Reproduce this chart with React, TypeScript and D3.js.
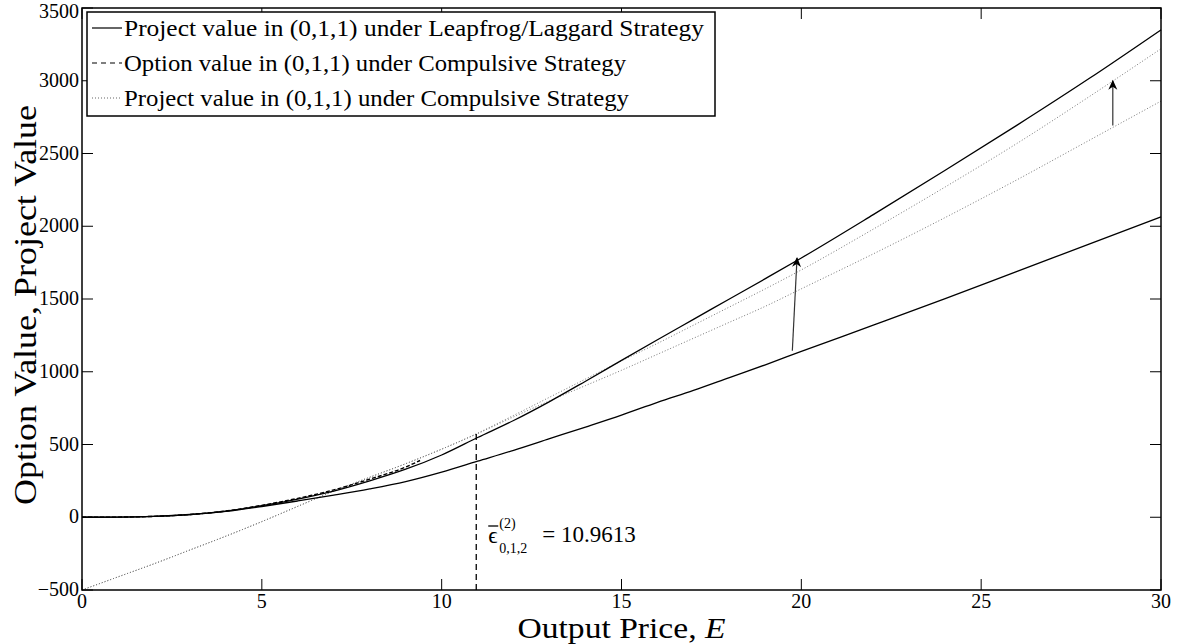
import React from 'react'
import * as d3 from 'd3'

// output price grid and the two leapfrog/laggard project value curves
const priceE = [0, 1, 2, 3, 4, 5, 6, 7, 8, 9, 10, 11, 12, 13, 14, 15, 16, 17, 18, 19, 20, 22, 24, 26, 28, 30]
const leapUpper = [0, 1, 6, 19, 42, 80, 125, 180, 250, 330, 428, 548, 665, 795, 935, 1078, 1220, 1360, 1500, 1640, 1782, 2080, 2385, 2695, 3015, 3350]
const leapLower = [0, 1, 6, 18, 40, 74, 112, 152, 195, 245, 310, 385, 460, 540, 620, 702, 790, 872, 960, 1048, 1140, 1320, 1502, 1690, 1877, 2065]

// option value under compulsive strategy (stops near E = 9.4)
const optE = [0, 1, 2, 3, 4, 5, 6, 7, 8, 9, 9.4]
const optValue = [0, 1, 6, 19, 43, 82, 130, 188, 262, 345, 390]

// project values under compulsive strategy (two dotted curves)
const compE = [0, 1, 2, 3, 4, 5, 6, 7, 8, 9, 10, 11, 12, 13, 14, 15, 16, 17, 18, 19, 20, 22, 24, 26, 28, 30]
const compUpper = [-500, -410, -320, -225, -130, -30, 75, 180, 275, 368, 468, 578, 700, 825, 950, 1075, 1195, 1320, 1445, 1570, 1700, 1980, 2270, 2570, 2890, 3220]
const compLower = [-500, -410, -320, -225, -130, -30, 75, 180, 275, 368, 468, 575, 690, 800, 905, 1010, 1120, 1230, 1340, 1450, 1570, 1810, 2060, 2320, 2590, 2860]

const xTicks = [0, 5, 10, 15, 20, 25, 30]
const yTicks = [-500, 0, 500, 1000, 1500, 2000, 2500, 3000, 3500]
const threshold = 10.9613
const arrowFrom = [[19.75, 1144], [28.66, 2692]]
const arrowTo = [[19.88, 1782], [28.66, 3000]]
const legendLabels = [
  'Project value in (0,1,1) under Leapfrog/Laggard Strategy',
  'Option value in (0,1,1) under Compulsive Strategy',
  'Project value in (0,1,1) under Compulsive Strategy'
]
// widths of the legend texts as they appear in the reference (computer modern is wider)
const legendWidths = [580, 502, 505]

const W = 1184
const H = 644
const margin = { top: 8, right: 23, bottom: 54, left: 82 }
const font = '"Liberation Serif", "DejaVu Serif", serif'

export default function App() {
  const x = d3.scaleLinear().domain([0, 30]).range([margin.left, W - margin.right])
  const y = d3.scaleLinear().domain([-500, 3500]).range([H - margin.bottom, margin.top])

  const line = d3.line<[number, number]>().x(d => x(d[0])).y(d => y(d[1])).curve(d3.curveMonotoneX)
  const zip = (xs: number[], ys: number[]) => xs.map((v, i) => [v, ys[i]] as [number, number])

  const x0 = x(0), x1 = x(30), y0 = y(-500), y1 = y(3500)
  const tick = 11
  const tx = x(threshold)

  const legendLine = [
    { dash: undefined, color: '#000' },
    { dash: '5 4', color: '#000' },
    { dash: '1 2', color: '#666' }
  ]

  return (
    <svg width={W} height={H} style={{ position: 'absolute', left: 0, top: 0, background: '#fff' }}>
      <defs>
        <marker id="head" viewBox="0 0 10 10" refX="9" refY="5" markerWidth="13" markerHeight="10" orient="auto" markerUnits="userSpaceOnUse">
          <path d="M0,0.5 L10,5 L0,9.5 L3,5 Z" fill="#000" />
        </marker>
      </defs>
      <rect x={0} y={0} width={W} height={H} fill="#fff" />

      {/* curves */}
      <path d={line(zip(compE, compUpper)) || ''} fill="none" stroke="#777" strokeWidth={1} strokeDasharray="1 2" />
      <path d={line(zip(compE, compLower)) || ''} fill="none" stroke="#777" strokeWidth={1} strokeDasharray="1 2" />
      <path d={line(zip(priceE, leapLower)) || ''} fill="none" stroke="#000" strokeWidth={1.3} />
      <path d={line(zip(priceE, leapUpper)) || ''} fill="none" stroke="#000" strokeWidth={1.3} />
      <path d={line(zip(optE, optValue)) || ''} fill="none" stroke="#000" strokeWidth={1.4} strokeDasharray="4 2" />

      {/* threshold line */}
      <line x1={tx} x2={tx} y1={y0} y2={y(575)} stroke="#000" strokeWidth={1.3} strokeDasharray="6 4" />

      {/* arrows */}
      {arrowFrom.map((a, i) => (
        <line key={i} x1={x(a[0])} y1={y(a[1])} x2={x(arrowTo[i][0])} y2={y(arrowTo[i][1])} stroke="#333" strokeWidth={1.2} markerEnd="url(#head)" />
      ))}

      {/* annotation */}
      <g fontFamily={font} fill="#000">
        <text x={tx + 12} y={543} fontSize={23}>ϵ</text>
        <line x1={tx + 12} x2={tx + 22} y1={526} y2={526} stroke="#000" strokeWidth={1.3} />
        <text x={tx + 23} y={528} fontSize={14}>(2)</text>
        <text x={tx + 23} y={553} fontSize={14}>0,1,2</text>
        <text x={tx + 66} y={542} fontSize={23}>= {threshold}</text>
      </g>

      {/* axes box */}
      <rect x={x0} y={y1} width={x1 - x0} height={y0 - y1} fill="none" stroke="#000" strokeWidth={1.5} />
      {xTicks.map(t => (
        <g key={'x' + t}>
          <line x1={x(t)} x2={x(t)} y1={y0} y2={y0 - tick} stroke="#000" />
          <line x1={x(t)} x2={x(t)} y1={y1} y2={y1 + tick} stroke="#000" />
          <text x={x(t)} y={y0 + 18} textAnchor="middle" fontSize={20} fontFamily={font}>{t}</text>
        </g>
      ))}
      {yTicks.map(t => (
        <g key={'y' + t}>
          <line x1={x0} x2={x0 + tick} y1={y(t)} y2={y(t)} stroke="#000" />
          <line x1={x1} x2={x1 - tick} y1={y(t)} y2={y(t)} stroke="#000" />
          <text x={x0 - 3} y={Math.max(y(t) + 6, 18)} textAnchor="end" fontSize={20} fontFamily={font}>{t < 0 ? '\u2212' + Math.abs(t) : t}</text>
        </g>
      ))}

      {/* axis labels */}
      <text x={(x0 + x1) / 2} y={638} textAnchor="middle" fontSize={30} fontFamily={font} textLength={208} lengthAdjust="spacingAndGlyphs">
        Output Price, <tspan fontStyle="italic">E</tspan>
      </text>
      <text transform={`translate(36, ${(y0 + y1) / 2 + 6}) rotate(-90)`} textAnchor="middle" fontSize={32} fontFamily={font} textLength={400} lengthAdjust="spacingAndGlyphs">
        Option Value, Project Value
      </text>

      {/* legend */}
      <g fontFamily={font}>
        <rect x={87} y={12} width={628} height={104} fill="#fff" stroke="#000" strokeWidth={1.5} />
        {legendLabels.map((lab, i) => (
          <g key={lab} transform={`translate(0, ${28 + i * 35})`}>
            <line x1={92} x2={122} y1={0} y2={0} stroke={legendLine[i].color} strokeWidth={1.2} strokeDasharray={legendLine[i].dash} />
            <text x={124} y={8} fontSize={23} textLength={legendWidths[i]} lengthAdjust="spacingAndGlyphs">{lab}</text>
          </g>
        ))}
      </g>
    </svg>
  )
}
